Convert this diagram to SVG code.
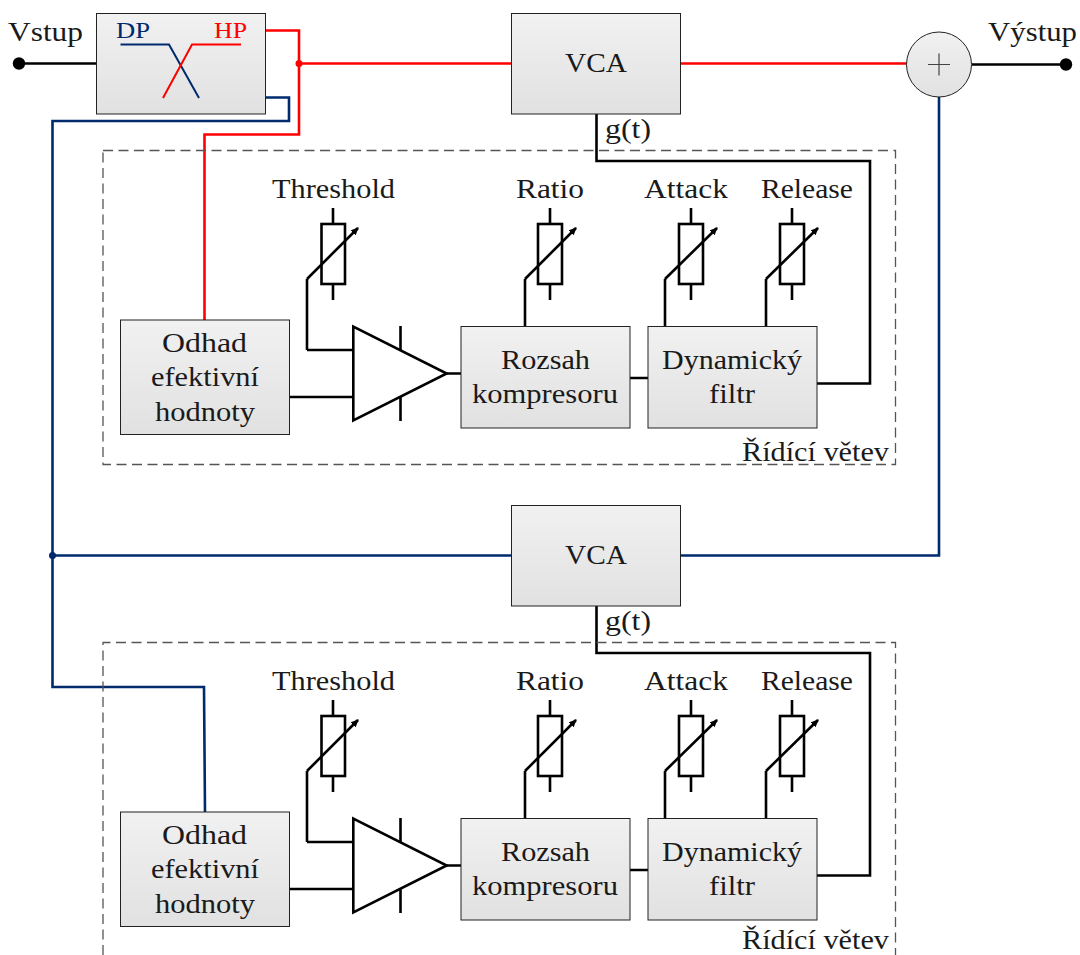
<svg xmlns="http://www.w3.org/2000/svg" width="1080" height="955" viewBox="0 0 1080 955">
<style>
text{font-family:"Liberation Serif","Times New Roman",serif;font-size:28px;fill:#1a1a1a}
.box{fill:url(#g);stroke:#222;stroke-width:1}
.w{fill:none;stroke:#000;stroke-width:2.6;stroke-linejoin:miter}
.r{fill:none;stroke:#f00;stroke-width:2.6}
.b{fill:none;stroke:#002a6e;stroke-width:2.6}
.d{fill:none;stroke:#555;stroke-width:1.3;stroke-dasharray:10 5.5}
.small{font-size:23px}
</style>
<defs>
<linearGradient id="g" x1="0" y1="0" x2="0" y2="1"><stop offset="0" stop-color="#f1f1f1"/><stop offset="1" stop-color="#e1e1e1"/></linearGradient>
<marker id="a" markerUnits="userSpaceOnUse" markerWidth="9" markerHeight="9" refX="7" refY="4" orient="auto"><path d="M0 0.5L8 4L0 7.5Z" fill="#000"/></marker>
</defs>
<rect width="1080" height="955" fill="#fff"/>

<g id="connectors">
<path class="w" d="M19 63.5H97M972 64.5H1066"/>
<circle cx="19" cy="63.5" r="6.2"/><circle cx="1066" cy="64.5" r="6.2"/>
<path class="r" d="M265 30.5H299V134.5H204.5V320M299 63.5H511.5M680 63.5H907"/>
<circle cx="299" cy="63.5" r="3.5" fill="#f00"/>
<path class="b" d="M265 97.5H289V121H52.5V687H204L205 812M52.5 555.5H511.5M680 555.5H939V97"/>
<circle cx="52.5" cy="555.5" r="3.5" fill="#002a6e"/>
<path class="w" d="M596.5 114V161H870V383.5H817"/>
<path class="w" d="M596.5 606V653H870V875.5H817"/>
<path class="w" d="M289 397H353M307 350H353M447 373.5H461M630 378H648"/>
<path class="w" d="M307 350V279M525 326.5V279M665 326.5V279M766 326.5V279"/>
<path class="w" d="M289 889H353M307 842H353M447 865.5H461M630 870H648"/>
<path class="w" d="M307 842V771M525 818.5V771M665 818.5V771M766 818.5V771"/>
</g>

<g id="dashed-top"><rect class="d" x="103" y="150.5" width="792.5" height="314"/></g>
<g id="dashed-bottom"><path class="d" d="M103 955V642.5H895.5V955"/></g>

<g id="input-label"><text x="8" y="41" textLength="75" lengthAdjust="spacingAndGlyphs">Vstup</text></g>
<g id="output-label"><text x="988" y="41" textLength="89" lengthAdjust="spacingAndGlyphs">Výstup</text></g>

<g id="crossover">
<rect class="box" x="96.5" y="13.5" width="169" height="100.5"/>
<path class="b" style="stroke-width:2" d="M120.5 44.5H169L199 98"/>
<path class="r" style="stroke-width:2" d="M163 98L192 44.5H241"/>
<text class="small" x="116" y="38" textLength="34" lengthAdjust="spacingAndGlyphs" style="fill:#002a6e">DP</text>
<text class="small" x="214" y="38" textLength="33" lengthAdjust="spacingAndGlyphs" style="fill:#f00">HP</text>
</g>

<g id="sum">
<circle cx="939" cy="64.5" r="32.5" fill="url(#g)" stroke="#222" stroke-width="1"/>
<path d="M928 64.5H950M939 53.5V75.5" stroke="#444" stroke-width="1.2" fill="none"/>
</g>

<g id="vca1">
<rect class="box" x="511.5" y="13.5" width="169" height="100.5"/>
<text x="565" y="72" textLength="62" lengthAdjust="spacingAndGlyphs">VCA</text>
</g>
<g id="gt1"><text x="605" y="138" textLength="46" lengthAdjust="spacingAndGlyphs">g(t)</text></g>

<g id="thr1">
<text x="272" y="198" textLength="123" lengthAdjust="spacingAndGlyphs">Threshold</text>
<path class="w" d="M333 208V224M333 284V300"/><rect x="321.5" y="224" width="23.5" height="60" fill="#fff" stroke="#000" stroke-width="2.6"/>
<path class="w" d="M307 279L358 228" marker-end="url(#a)"/>
</g>
<g id="ratio1">
<text x="516" y="198" textLength="68" lengthAdjust="spacingAndGlyphs">Ratio</text>
<path class="w" d="M550 208V224M550 284V300"/><rect x="538" y="224" width="24" height="60" fill="#fff" stroke="#000" stroke-width="2.6"/>
<path class="w" d="M525 279L576 228" marker-end="url(#a)"/>
</g>
<g id="attack1">
<text x="644" y="198" textLength="84" lengthAdjust="spacingAndGlyphs">Attack</text>
<path class="w" d="M691 208V224M691 284V300"/><rect x="679" y="224" width="24" height="60" fill="#fff" stroke="#000" stroke-width="2.6"/>
<path class="w" d="M665 279L717 228" marker-end="url(#a)"/>
</g>
<g id="release1">
<text x="761" y="198" textLength="92" lengthAdjust="spacingAndGlyphs">Release</text>
<path class="w" d="M792 208V224M792 284V300"/><rect x="780" y="224" width="24" height="60" fill="#fff" stroke="#000" stroke-width="2.6"/>
<path class="w" d="M766 279L818 228" marker-end="url(#a)"/>
</g>

<g id="rms1">
<rect class="box" x="120.5" y="320" width="169" height="114.5"/>
<text x="162" y="352" textLength="85" lengthAdjust="spacingAndGlyphs">Odhad</text>
<text x="151" y="386" textLength="108" lengthAdjust="spacingAndGlyphs">efektivní</text>
<text x="155" y="421" textLength="100" lengthAdjust="spacingAndGlyphs">hodnoty</text>
</g>
<g id="amp1">
<path class="w" d="M400.5 326V351M400.5 397V421"/>
<path d="M353.3 326.5V420.5L446.7 373.5Z" fill="#fff" stroke="#000" stroke-width="2.6"/>
</g>
<g id="range1">
<rect class="box" x="461" y="326.5" width="169" height="101.5"/>
<text x="501" y="369" textLength="89" lengthAdjust="spacingAndGlyphs">Rozsah</text>
<text x="472" y="403" textLength="146" lengthAdjust="spacingAndGlyphs">kompresoru</text>
</g>
<g id="dyn1">
<rect class="box" x="648" y="326.5" width="169" height="101.5"/>
<text x="662" y="369" textLength="140" lengthAdjust="spacingAndGlyphs">Dynamický</text>
<text x="709" y="403" textLength="46" lengthAdjust="spacingAndGlyphs">filtr</text>
</g>
<g id="branch1"><text x="742" y="461" textLength="147" lengthAdjust="spacingAndGlyphs">Řídící větev</text></g>

<g id="vca2">
<rect class="box" x="511.5" y="505.5" width="169" height="100.5"/>
<text x="565" y="564" textLength="62" lengthAdjust="spacingAndGlyphs">VCA</text>
</g>
<g id="gt2"><text x="605" y="630" textLength="46" lengthAdjust="spacingAndGlyphs">g(t)</text></g>

<g id="thr2">
<text x="272" y="690" textLength="123" lengthAdjust="spacingAndGlyphs">Threshold</text>
<path class="w" d="M333 700V716M333 776V792"/><rect x="321.5" y="716" width="23.5" height="60" fill="#fff" stroke="#000" stroke-width="2.6"/>
<path class="w" d="M307 771L358 720" marker-end="url(#a)"/>
</g>
<g id="ratio2">
<text x="516" y="690" textLength="68" lengthAdjust="spacingAndGlyphs">Ratio</text>
<path class="w" d="M550 700V716M550 776V792"/><rect x="538" y="716" width="24" height="60" fill="#fff" stroke="#000" stroke-width="2.6"/>
<path class="w" d="M525 771L576 720" marker-end="url(#a)"/>
</g>
<g id="attack2">
<text x="644" y="690" textLength="84" lengthAdjust="spacingAndGlyphs">Attack</text>
<path class="w" d="M691 700V716M691 776V792"/><rect x="679" y="716" width="24" height="60" fill="#fff" stroke="#000" stroke-width="2.6"/>
<path class="w" d="M665 771L717 720" marker-end="url(#a)"/>
</g>
<g id="release2">
<text x="761" y="690" textLength="92" lengthAdjust="spacingAndGlyphs">Release</text>
<path class="w" d="M792 700V716M792 776V792"/><rect x="780" y="716" width="24" height="60" fill="#fff" stroke="#000" stroke-width="2.6"/>
<path class="w" d="M766 771L818 720" marker-end="url(#a)"/>
</g>

<g id="rms2">
<rect class="box" x="120.5" y="812" width="169" height="114.5"/>
<text x="162" y="844" textLength="85" lengthAdjust="spacingAndGlyphs">Odhad</text>
<text x="151" y="878" textLength="108" lengthAdjust="spacingAndGlyphs">efektivní</text>
<text x="155" y="913" textLength="100" lengthAdjust="spacingAndGlyphs">hodnoty</text>
</g>
<g id="amp2">
<path class="w" d="M400.5 818V843M400.5 889V913"/>
<path d="M353.3 818.5V912.5L446.7 865.5Z" fill="#fff" stroke="#000" stroke-width="2.6"/>
</g>
<g id="range2">
<rect class="box" x="461" y="818.5" width="169" height="101.5"/>
<text x="501" y="861" textLength="89" lengthAdjust="spacingAndGlyphs">Rozsah</text>
<text x="472" y="895" textLength="146" lengthAdjust="spacingAndGlyphs">kompresoru</text>
</g>
<g id="dyn2">
<rect class="box" x="648" y="818.5" width="169" height="101.5"/>
<text x="662" y="861" textLength="140" lengthAdjust="spacingAndGlyphs">Dynamický</text>
<text x="709" y="895" textLength="46" lengthAdjust="spacingAndGlyphs">filtr</text>
</g>
<g id="branch2"><text x="742" y="949" textLength="147" lengthAdjust="spacingAndGlyphs">Řídící větev</text></g>
</svg>
